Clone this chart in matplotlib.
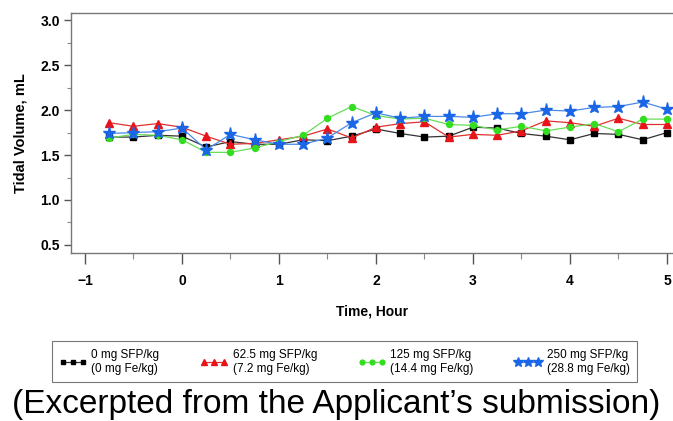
import numpy as np
import matplotlib
matplotlib.use("Agg")
import matplotlib.pyplot as plt

plt.rcParams['font.family'] = ['Liberation Sans', 'DejaVu Sans']

# time points, hours
hours = [-0.75, -0.5, -0.25, 0, 0.25, 0.5, 0.75, 1, 1.25, 1.5, 1.75, 2,
         2.25, 2.5, 2.75, 3, 3.25, 3.5, 3.75, 4, 4.25, 4.5, 4.75, 5]

# tidal volume (mL) per dose group
vol_0 = [1.70, 1.70, 1.72, 1.71, 1.59, 1.65, 1.62, 1.62, 1.67, 1.66, 1.71, 1.79,
         1.74, 1.70, 1.71, 1.81, 1.80, 1.74, 1.71, 1.67, 1.74, 1.73, 1.67, 1.75]
vol_62 = [1.86, 1.82, 1.85, 1.81, 1.71, 1.62, 1.63, 1.67, 1.71, 1.79, 1.69, 1.81,
          1.85, 1.87, 1.70, 1.73, 1.72, 1.77, 1.88, 1.86, 1.82, 1.91, 1.84, 1.84]
vol_125 = [1.69, 1.73, 1.72, 1.67, 1.53, 1.53, 1.58, 1.65, 1.72, 1.91, 2.04, 1.94,
           1.90, 1.91, 1.84, 1.83, 1.78, 1.82, 1.77, 1.81, 1.85, 1.76, 1.90, 1.90]
vol_250 = [1.74, 1.75, 1.76, 1.80, 1.56, 1.73, 1.67, 1.62, 1.62, 1.69, 1.86, 1.97,
           1.91, 1.93, 1.93, 1.92, 1.96, 1.96, 2.00, 1.99, 2.03, 2.04, 2.09, 2.01]

labels = ["0 mg SFP/kg\n(0 mg Fe/kg)",
          "62.5 mg SFP/kg\n(7.2 mg Fe/kg)",
          "125 mg SFP/kg\n(14.4 mg Fe/kg)",
          "250 mg SFP/kg\n(28.8 mg Fe/kg)"]

fig = plt.figure(figsize=(6.73, 4.21), dpi=100)
ax = fig.add_axes([0.1055, 0.399, 0.8945, 0.570])

# garis per kelompok dosis
ax.plot(hours, vol_0, color='#333333', lw=0.9, marker='s', ms=4.3,
        mfc='black', mec='black', label=labels[0])
ax.plot(hours, vol_62, color='#e03030', lw=0.9, marker='^', ms=5.2,
        mfc='#e8141a', mec='#e8141a', label=labels[1])
ax.plot(hours, vol_125, color='#66dd55', lw=0.9, marker='o', ms=4.3,
        mfc='#33dd1f', mec='#33dd1f', label=labels[2])
ax.plot(hours, vol_250, color='#4a8ae6', lw=0.9, marker='*', ms=9.5,
        mfc='#1a66e6', mec='#1a66e6', label=labels[3])

ax.set_xlim(-1.144, 5.062)
ax.set_ylim(0.41, 3.08)
ax.set_xticks([-1, 0, 1, 2, 3, 4, 5])
ax.set_xticklabels(['\u22121', '0', '1', '2', '3', '4', '5'])
ax.set_xticks(np.arange(-0.5, 5, 1.0), minor=True)
ax.set_yticks([0.5, 1.0, 1.5, 2.0, 2.5, 3.0])
ax.set_yticks(np.arange(0.75, 3.0, 0.5), minor=True)

for s in ['left', 'bottom', 'top']:
    ax.spines[s].set_color('#777777')
    ax.spines[s].set_linewidth(1.0)
ax.spines['right'].set_visible(False)

ax.tick_params(axis='x', which='major', length=8, width=1, color='#555555',
               labelsize=10, pad=7)
ax.tick_params(axis='x', which='minor', length=4, width=0.8, color='#888888')
ax.tick_params(axis='y', which='major', length=5, width=1, color='#555555',
               labelsize=10, pad=3)
ax.tick_params(axis='y', which='minor', length=3, width=0.8, color='#888888')
for t in ax.get_xticklabels() + ax.get_yticklabels():
    t.set_fontweight('bold')

ax.set_ylabel('Tidal Volume, mL', fontsize=10.5, fontweight='bold', labelpad=9)
ax.set_xlabel('Time, Hour', fontsize=10, fontweight='bold', labelpad=12)

leg = fig.legend(loc='center', bbox_to_anchor=(0.512, 0.141),
                 ncol=4, numpoints=3, fontsize=8.5, frameon=True, fancybox=False,
                 edgecolor='#555555', handlelength=2.3, handletextpad=0.4,
                 columnspacing=3.5, markerscale=0.8, borderpad=0.65,
                 labelspacing=0.2)
leg.get_frame().set_linewidth(0.8)

fig.text(0.5, 0.04, '(Excerpted from the Applicant\u2019s submission)',
         ha='center', va='center', fontsize=24)

fig.savefig('out.png', dpi=100)
